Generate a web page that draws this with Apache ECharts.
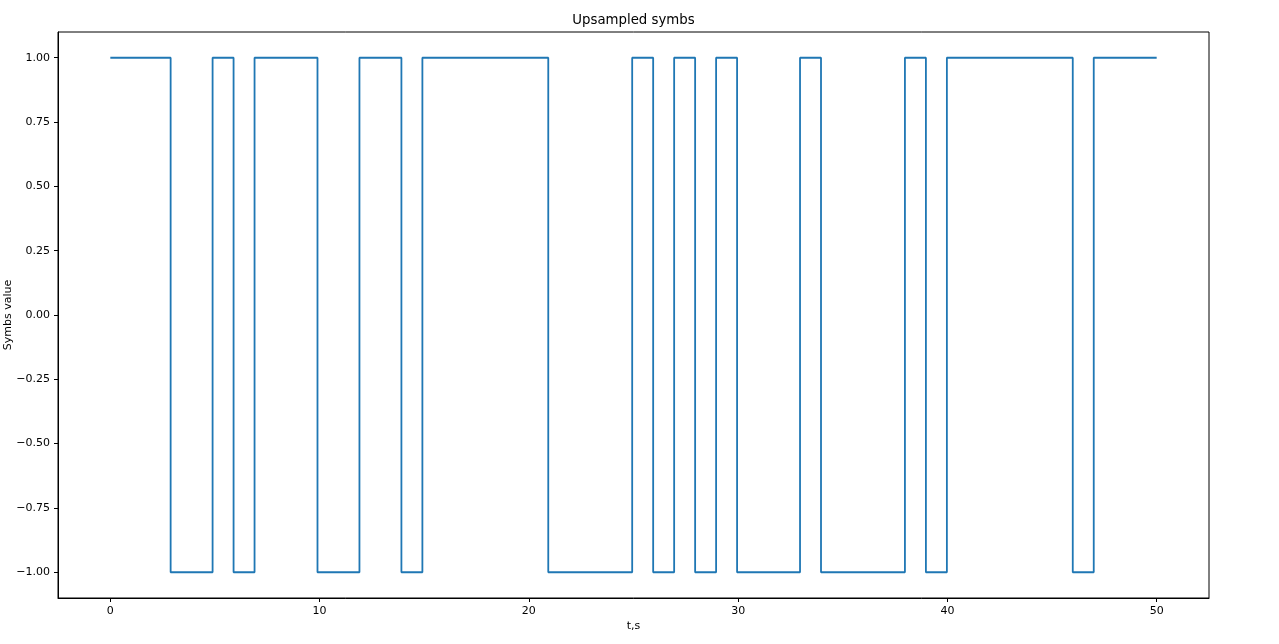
<!DOCTYPE html>
<html>
<head>
<meta charset="utf-8">
<script src="https://cdn.jsdelivr.net/npm/echarts@6/dist/echarts.min.js"></script>
<style>
html,body{margin:0;padding:0;background:#fff;}
#chart{width:1279px;height:644px;}
</style>
</head>
<body>
<div id="chart"></div>
<script>
// Symbol values (one per second)
const symbols = [1,1,1,-1,-1,1,-1,1,1,1,-1,-1,1,1,-1,1,1,1,1,1,1,-1,-1,-1,-1,1,-1,1,-1,1,-1,-1,-1,1,-1,-1,-1,-1,1,-1,1,1,1,1,1,1,-1,1,1,1];
const samplesPerSymbol = 8;
const tEnd = 50;
const xTicks = [0, 10, 20, 30, 40, 50];
const yTicks = [-1, -0.75, -0.5, -0.25, 0, 0.25, 0.5, 0.75, 1];

// upsample: repeat each symbol, time base linspace(0, tEnd, N)
const upsampled = [];
symbols.forEach(s => { for (let k = 0; k < samplesPerSymbol; k++) upsampled.push(s); });
const N = upsampled.length;
const seriesData = upsampled.map((v, i) => [i * tEnd / (N - 1), v]);

const fontFamily = 'DejaVu Sans';
const chart = echarts.init(document.getElementById('chart'), null, {renderer: 'canvas'});
chart.setOption({
  animation: false,
  backgroundColor: '#fff',
  title: {
    text: 'Upsampled symbs',
    left: 633.5,
    textAlign: 'center',
    top: 14,
    padding: 0,
    textStyle: {fontFamily, fontSize: 13.3, fontWeight: 'normal', color: '#000'}
  },
  grid: {
    left: 58, right: 70, top: 32, bottom: 46,
    outerBoundsMode: 'none',
    containLabel: false,
    show: true, borderColor: '#000', borderWidth: 1, backgroundColor: 'transparent'
  },
  xAxis: {
    type: 'value',
    min: -2.5, max: 52.5,
    name: 't,s',
    nameLocation: 'middle',
    nameGap: 23,
    nameMoveOverlap: false,
    nameTextStyle: {fontFamily, fontSize: 11, color: '#000'},
    axisLine: {show: true, onZero: false, lineStyle: {color: '#000', width: 1}},
    axisTick: {show: true, length: 4, inside: false, customValues: xTicks, lineStyle: {color: '#000', width: 1}},
    axisLabel: {customValues: xTicks, fontFamily, fontSize: 11, color: '#000', margin: 8,
      formatter: v => String(v).replace('-', '\u2212')},
    splitLine: {show: false}
  },
  yAxis: {
    type: 'value',
    min: -1.1, max: 1.1,
    name: 'Symbs value',
    nameLocation: 'middle',
    nameGap: 44,
    nameMoveOverlap: false,
    nameRotate: 90,
    nameTextStyle: {fontFamily, fontSize: 11, color: '#000'},
    axisLine: {show: true, onZero: false, lineStyle: {color: '#000', width: 1}},
    axisTick: {show: true, length: 4, inside: false, customValues: yTicks, lineStyle: {color: '#000', width: 1}},
    axisLabel: {customValues: yTicks, fontFamily, fontSize: 11, color: '#000', margin: 8,
      formatter: v => v.toFixed(2).replace('-', '\u2212')},
    splitLine: {show: false}
  },
  series: [{
    type: 'line',
    data: seriesData,
    step: 'start',
    showSymbol: false,
    symbol: 'none',
    lineStyle: {color: '#1f77b4', width: 1.8},
    itemStyle: {color: '#1f77b4'}
  }]
});
</script>
</body>
</html>
